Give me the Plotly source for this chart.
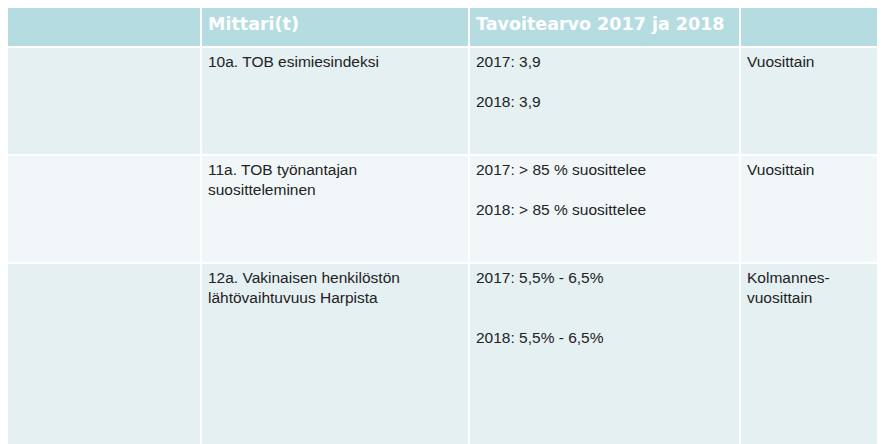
import plotly.graph_objects as go

headers = ["Tavoite", "Mittari(t)", "Tavoitearvo 2017 ja 2018", "Seurantatihe<br>ys"]
tavoite = ["10. Johtaminen on<br>laadukasta",
           "11. Henkilöstö suosittelee<br>HUS:ia työnantajana",
           "12. Henkilöstö on<br>sitoutunutta"]
mittari = ["10a. TOB esimiesindeksi",
           "11a. TOB työnantajan<br>suositteleminen",
           "12a. Vakinaisen henkilöstön<br>lähtövaihtuvuus Harpista"]
arvo = ["2017: 3,9<br><br>2018: 3,9",
        "2017: > 85 % suosittelee<br><br>2018: > 85 % suosittelee",
        "2017: 5,5% - 6,5%<br><br><br>2018: 5,5% - 6,5%"]
seuranta = ["Vuosittain", "Vuosittain", "Kolmannes-<br>vuosittain"]

col_edges = [0, 201, 469, 740, 900]
row_edges = [0, 47, 155, 263, 460]
row_fill = ["#b5dde1", "#e5f0f3", "#f1f7f9", "#e5f0f3"]

# page body has an 8px margin, so shift the axes to line up with the window
off = 8

fig = go.Figure()
shapes, annotations = [], []
columns = [tavoite, mittari, arvo, seuranta]
for r in range(4):
    for c in range(4):
        x0, x1 = col_edges[c], col_edges[c + 1]
        y0, y1 = row_edges[r], row_edges[r + 1]
        shapes.append(dict(type="rect", xref="x", yref="y", x0=x0, x1=x1, y0=y0, y1=y1,
                           fillcolor=row_fill[r], line=dict(color="white", width=2), layer="below"))
        if r == 0:
            txt = "<b>" + headers[c].replace("<br>", "</b><br><b>") + "</b>"
            font = dict(family="DejaVu Sans", size=17.5, color="white")
            if c == 3:
                annotations.append(dict(x=x0 + 5, y=0, xref="x", yref="y", text=txt, showarrow=False,
                                        xanchor="left", yanchor="top", align="left", font=font))
            else:
                annotations.append(dict(x=x0 + 5, y=(y0 + y1) / 2, xref="x", yref="y", text=txt,
                                        showarrow=False, xanchor="left", yanchor="middle", align="left",
                                        font=font))
        else:
            annotations.append(dict(x=x0 + 5, y=y0 + 4, xref="x", yref="y", text=columns[c][r - 1],
                                    showarrow=False, xanchor="left", yanchor="top", align="left",
                                    font=dict(family="Liberation Sans, Arial", size=15.5, color="#222222")))

fig.update_layout(
    width=885, height=444, margin=dict(l=0, r=0, t=0, b=0),
    paper_bgcolor="white", plot_bgcolor="white",
    xaxis=dict(range=[off, 885 + off], visible=False, fixedrange=True),
    yaxis=dict(range=[444 + off, off], visible=False, fixedrange=True),
    shapes=shapes, annotations=annotations, showlegend=False,
)
fig.write_html("out.html")
